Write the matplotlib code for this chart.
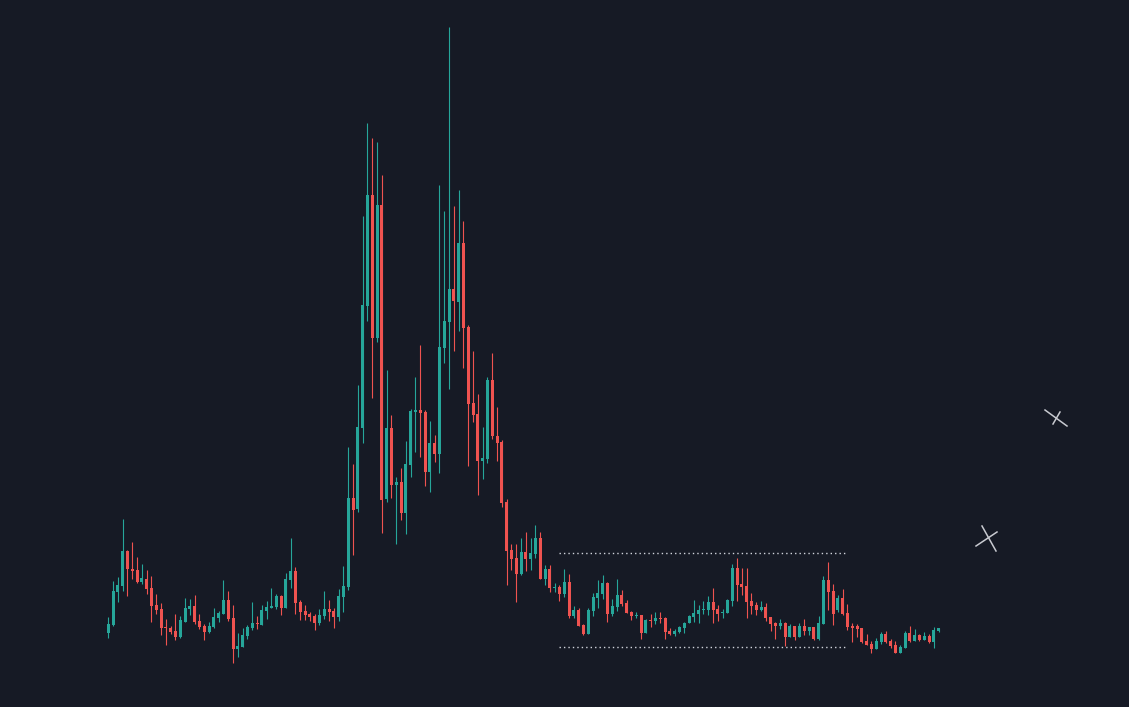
import matplotlib
matplotlib.use("Agg")
import matplotlib.pyplot as plt
from matplotlib.lines import Line2D
import numpy as np

# OHLC (price units, arbitrary scale)
opens = [67.3, 75, 108.3, 114, 149, 131, 130, 118, 121, 112, 95, 91, 73, 72, 69, 63, 78.3, 91, 94, 79,
         74.3, 68.3, 73.3, 82.3, 86, 100, 82, 51.3, 53.3, 64.3, 72.3, 77, 75.3, 89, 92.3, 92.7, 104, 92.3, 120, 129,
         98, 89, 86, 84, 77.3, 84, 91, 89, 83.3, 103.3, 113.3, 202, 191, 272.3, 394.3, 505, 362.3, 495, 201, 272.3,
         215, 218.3, 187.3, 235, 288, 290, 288, 228.3, 257, 246.3, 352.3, 378.3, 411, 398.3, 457, 373, 297, 286, 239.3, 241.3,
         320, 264, 258, 198, 150, 142, 126, 148, 141, 146, 162, 121, 131, 112, 113, 106, 118, 84, 90, 75,
         66, 89, 102, 106, 117, 86, 93, 105, 97, 88, 84, 85, 67, 80, 79, 82, 82, 69, 66, 68,
         71.7, 77.3, 83, 86, 90, 90, 98, 91, 87, 87, 99, 132, 116.3, 114, 99, 95, 90, 93, 83, 77,
         74, 77, 63, 74, 63, 74, 69, 73, 61, 76, 120, 109, 90, 102, 87, 74, 74, 72, 59, 56,
         51, 58, 66, 59, 55, 47, 52, 67, 59, 65, 60, 64, 58, 69]
highs = [83.3, 119, 123, 181, 150, 158, 143, 136, 130, 124, 106, 97, 81, 74, 86, 84, 102, 101, 105, 86,
         76, 78, 92, 89, 120, 109, 95, 67, 72, 75, 98, 84, 95, 99, 112, 106, 105, 127, 162, 133,
         100, 95, 88, 86, 91, 109, 100, 92, 111, 134, 253, 236, 315, 484, 577, 562, 558, 525, 330, 285,
         223.3, 232.3, 259, 291, 323, 355, 290, 279, 265, 515, 489, 673, 494, 510, 479, 375, 349, 306, 273, 323,
         347, 293, 260, 201, 156, 156, 162, 168, 162, 175, 168, 135, 135, 117, 115, 131, 126, 94, 92, 76,
         92, 107, 120, 125, 118, 101, 121, 110, 100, 89, 88, 85, 81, 86, 88, 88, 83, 72, 71, 74,
         78.3, 84.7, 100, 95, 99, 104, 112, 95, 91, 101.3, 136, 142, 132, 132, 107, 98, 99, 97, 83, 78,
         81, 78, 76, 74, 77, 81, 73, 73, 84, 124, 138, 116, 105, 111, 96, 77, 76, 72, 66, 59,
         62, 68, 69, 61, 59, 55, 69, 74, 71, 66, 68, 66, 73, 72]
lows = [62.3, 74, 98.3, 109.3, 104.3, 121, 116.7, 115.7, 106.3, 78.3, 86.3, 65.3, 55, 66.3, 60.3, 62.3, 78.3, 85.3, 76.3, 71.3,
        60.3, 67.3, 72.3, 78.3, 86, 79.3, 37.3, 43.3, 53.3, 61.3, 70.3, 71.3, 75.3, 81.3, 92.3, 91, 85.3, 92.3, 112.3, 86.3,
        80.3, 80.3, 79.3, 70.3, 75.3, 81.3, 79.3, 72.3, 79.3, 88.3, 110, 145, 188.3, 257.3, 379.3, 302.3, 358.3, 166.7, 198.3, 201.7,
        156, 180, 166, 223.3, 248.3, 243.3, 214.3, 208.3, 238.3, 227.3, 337.3, 311.3, 349.3, 369.3, 332.3, 234.3, 278.3, 205, 221, 237.3,
        261, 239, 193.3, 115, 130, 98.3, 125, 129, 130, 142, 121, 115, 108, 108, 99, 103, 82, 82, 74, 65,
        66, 84, 92, 101, 78, 84, 89, 94, 87, 80, 82, 61, 67, 73, 76, 77, 61, 65, 64, 67,
        67.3, 76.7, 78.3, 77.3, 86, 85, 77.3, 79.3, 82, 87, 94, 99, 105, 82, 86, 85, 89, 79, 69, 61,
        71, 54, 63, 60, 63, 65, 65, 60, 60, 76, 90, 75, 88, 85, 70, 58, 63, 57, 55, 47,
        51, 56, 57, 52, 47, 47, 52, 58, 59, 59, 60, 57, 52, 68]
closes = [76, 109, 115, 149, 131, 129, 118.3, 122, 111.3, 94, 90, 72.3, 72, 68, 63, 80, 92, 94, 78.3, 73.3,
          68.3, 74, 83, 87, 100, 81, 51.3, 54.3, 65, 73, 77, 76, 90, 93, 94, 104, 92.3, 121, 129, 97.3,
          88.3, 85, 83.3, 77.3, 85, 91, 88.3, 83.3, 104, 114, 202, 190, 273.3, 395, 505, 362.3, 495, 200, 272.3, 215,
          218.3, 187.3, 236.3, 289, 290, 287.3, 228.3, 257, 246.3, 353, 379, 411, 399.3, 457, 372.3, 296.3, 285, 239.3, 242, 320,
          264.3, 257, 197.3, 149.3, 141, 126, 148, 141, 147, 162, 121, 131, 112, 113, 106, 118, 84, 90, 74, 66,
          90, 103, 107, 117, 86, 94, 105, 96, 87, 84, 85, 67, 80, 79, 82, 81, 68, 66, 69, 73,
          77.3, 83.7, 87, 90, 91, 98, 90, 86, 88, 100, 132, 115.3, 113, 98, 94, 90, 93, 82, 76, 74,
          77, 63, 74, 63, 74, 69, 73, 61, 77, 120, 108, 86, 102, 86, 73, 72, 71, 58, 55, 51,
          59, 66, 58, 54, 47, 53, 67, 59, 65, 60, 64, 58, 70, 72]

# range box drawn on the chart (two dotted levels between two bar indexes)
range_levels = [146.7, 52.7]
range_span = [93.9, 153.5]

# the two cross markers at the right (figure pixels)
cross_lines = [
    [(1045, 410), (1067, 426)], [(1060, 412), (1053, 424)],
    [(976, 546), (997, 532)], [(982, 526), (996, 551)],
]

bg = "#161a25"
up_col = "#26a69a"
down_col = "#ef5350"

o = np.array(opens)
h = np.array(highs)
l = np.array(lows)
c = np.array(closes)
idx = np.arange(len(o))
colors = np.where(c >= o, up_col, down_col)

fig = plt.figure(figsize=(11.29, 7.07), dpi=100, facecolor=bg)
ax = fig.add_axes([0, 0, 1, 1])
ax.set_facecolor(bg)

ax.vlines(idx, l, h, colors=colors, linewidth=0.8)
body_bot = np.minimum(o, c)
body_h = np.maximum(np.abs(c - o), 1.0)
ax.bar(idx, body_h, bottom=body_bot, width=0.62, color=colors, linewidth=0)

for lvl in range_levels:
    ax.hlines(lvl, range_span[0], range_span[1], colors="#d1d4dc", linewidth=1.0,
              linestyles=(0, (1, 2.2)))

ax.set_xlim(-22.56, 212.65)
ax.set_ylim(-7, 700)
ax.axis("off")

W, H = 1129, 707
for (x0, y0), (x1, y1) in cross_lines:
    fig.add_artist(Line2D([x0 / W, x1 / W], [1 - y0 / H, 1 - y1 / H],
                          transform=fig.transFigure, color="#c8cad0", linewidth=1.1))

fig.savefig("out.png", dpi=100, facecolor=bg)
